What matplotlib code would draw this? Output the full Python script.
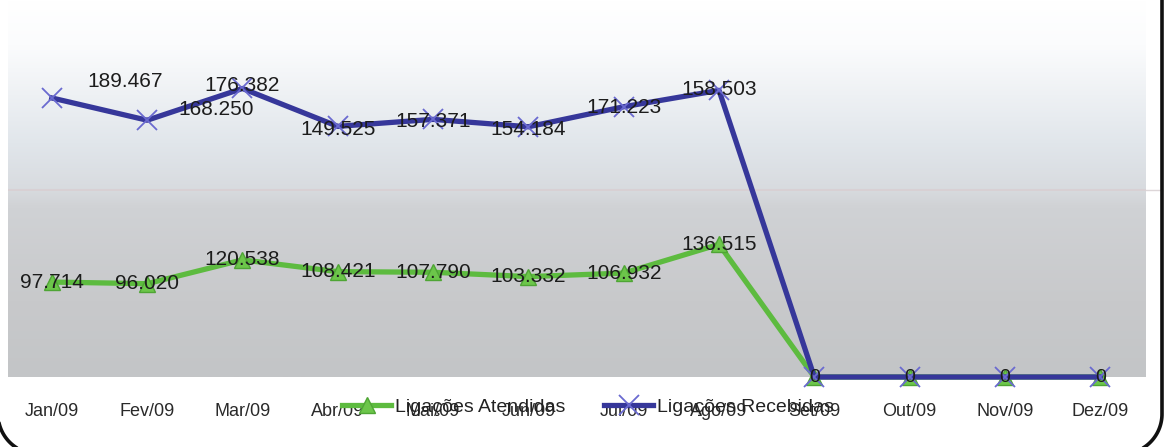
import matplotlib
matplotlib.use("Agg")
import matplotlib.pyplot as plt
import numpy as np
from matplotlib.colors import LinearSegmentedColormap
from matplotlib.lines import Line2D

months = ["Jan/09", "Fev/09", "Mar/09", "Abr/09", "Mai/09", "Jun/09",
          "Jul/09", "Ago/09", "Set/09", "Out/09", "Nov/09", "Dez/09"]
atendidas = [97714, 96020, 120538, 108421, 107790, 103332, 106932, 136515, 0, 0, 0, 0]
recebidas = [189467, 168250, 176382, 149525, 157371, 154184, 171223, 158503, 0, 0, 0, 0]

FONT = ["Liberation Sans Narrow", "Liberation Sans", "DejaVu Sans"]
plt.rcParams["font.family"] = FONT

W, H = 1167, 447
fig = plt.figure(figsize=(W / 100, H / 100), dpi=100)
fig.patch.set_facecolor("white")

ax = fig.add_axes([8 / W, 70 / H, 1138 / W, 377 / H])
ax.set_xlim(-0.46, 11.48)
ax.set_ylim(0, 388000)

# background gradient
stops = [(0.0, "#c3c5c7"), (0.2, "#c8c9cb"), (0.45, "#d0d2d5"), (0.5, "#d8dbdf"),
         (0.62, "#e1e6eb"), (0.75, "#eef1f4"), (0.88, "#fbfcfd"), (1.0, "#ffffff")]
cmap = LinearSegmentedColormap.from_list("bg", stops)
grad = np.linspace(0, 1, 256).reshape(-1, 1)
ax.imshow(grad, cmap=cmap, aspect="auto", origin="lower",
          extent=[0, 1, 0, 1], transform=ax.transAxes, zorder=0)
ax.axhline(192000, color="#d9cfd2", lw=1.2, zorder=1)

for s in ax.spines.values():
    s.set_visible(False)
ax.set_yticks([])

x = np.arange(len(months))
stacked = np.array(atendidas) + np.array(recebidas)

green = "#5dbb3f"
blue = "#36379a"

ax.plot(x, atendidas, color=green, lw=3.8, marker="^", ms=12,
        mfc="#6cc64a", mec="#4fa535", clip_on=False, zorder=3,
        label="Ligações Atendidas")
ax.plot(x, stacked, color=blue, lw=3.8, marker="x", ms=15, mew=1.3,
        mec="#6a6ad0", clip_on=False, zorder=4, label="Ligações Recebidas")

def fmt(v):
    return f"{v:,}".replace(",", ".")

TXT = "#1c1c1c"
# labels for atendidas
for i, v in enumerate(atendidas):
    if v == 0:
        continue
    ax.annotate(fmt(v), (x[i], v), xytext=(0, 0), textcoords="offset pixels",
                ha="center", va="center", fontsize=15, color=TXT, zorder=6)

# labels for recebidas (offsets in pixels)
offs = [(73, 16), (69, 11), (0, 3), (0, -3), (0, -2), (0, -3), (0, -1), (0, 1)]
for i, v in enumerate(recebidas):
    if v == 0:
        continue
    dx, dy = offs[i]
    ax.annotate(fmt(v), (x[i], stacked[i]), xytext=(dx, dy), textcoords="offset pixels",
                ha="center", va="center", fontsize=15, color=TXT, zorder=6)

# zero labels
for i, v in enumerate(recebidas):
    if v == 0:
        ax.annotate("0", (x[i], 0), xytext=(0, 0), textcoords="offset pixels",
                    ha="center", va="center", fontsize=14, color=TXT,
                    zorder=7, annotation_clip=False)

ax.set_xticks(x)
ax.set_xticklabels(months, fontsize=13, color="#2a2a2a")
ax.tick_params(axis="x", length=0, pad=19)

leg = ax.legend(loc="center", bbox_to_anchor=(588 / W, 40 / H),
                bbox_transform=fig.transFigure, ncol=2, frameon=False,
                fontsize=14, handlelength=2.5, columnspacing=2.0,
                handletextpad=0.2, labelcolor="#222222")
leg.set_zorder(10)

# frame border (pixel coordinates, origin bottom-left)
R = 40
xr, xl, yb = 1162, -2, -7
cy = yb + R
t_r = np.linspace(0, -np.pi / 2, 40)
t_l = np.linspace(-np.pi / 2, -np.pi, 40)
px = np.concatenate([[xr], xr - R + R * np.cos(t_r), xl + R + R * np.cos(t_l)])
py = np.concatenate([[H + 5], cy + R * np.sin(t_r), cy + R * np.sin(t_l)])
fig.add_artist(Line2D(px / W, py / H, transform=fig.transFigure,
                      color="#111111", lw=2.6, solid_capstyle="round", zorder=30))
fig.add_artist(Line2D([1146 / W, 1162 / W], [(447 - 190) / H] * 2,
                      transform=fig.transFigure, color="#ddd6d8", lw=1))

fig.savefig("out.png", dpi=100)
